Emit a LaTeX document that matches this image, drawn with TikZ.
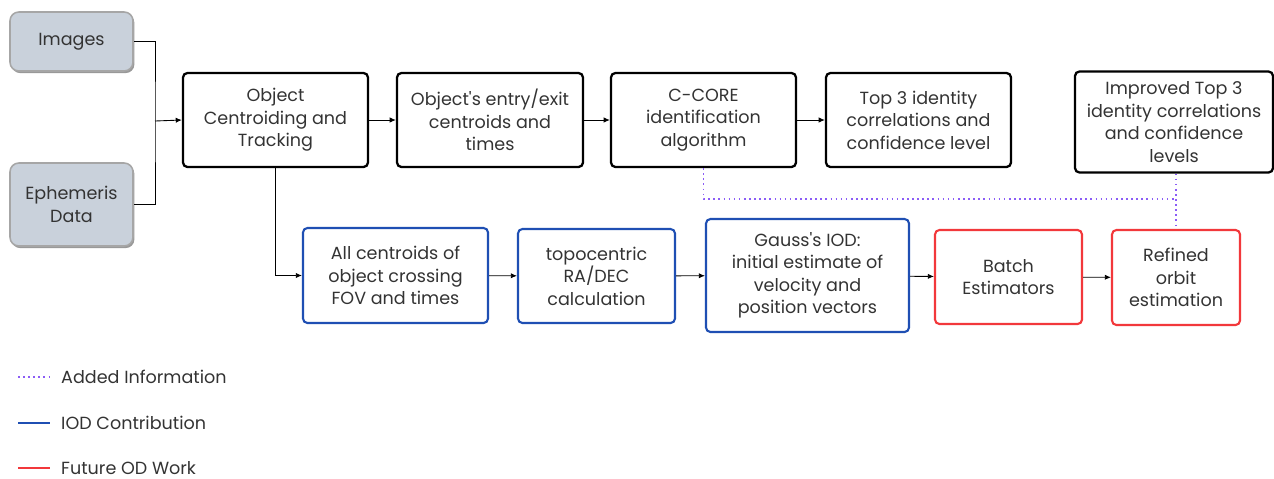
\documentclass[tikz,border=0pt]{standalone}
\usepackage{fontspec}
\setmainfont{Poppins}
\usetikzlibrary{arrows.meta,shadows}

\definecolor{iodblue}{HTML}{1F4FB3}
\definecolor{odred}{HTML}{F2383B}
\definecolor{addpurple}{HTML}{8B5CF6}
\definecolor{inputgray}{HTML}{C9D1DB}
\definecolor{txtgray}{HTML}{333333}

\begin{document}
\begin{tikzpicture}[x=0.02cm, y=-0.02cm,
    every node/.style={font=\fontsize{10}{12.8}\selectfont, text=txtgray, align=center},
    box/.style={draw=black, line width=1.3pt, rounded corners=2.5pt, inner sep=2pt},
    inbox/.style={box, draw=gray!70, line width=0.9pt, fill=inputgray, rounded corners=5pt,
        drop shadow={shadow xshift=0.8pt, shadow yshift=-1.2pt, fill=gray!80, opacity=1}},
    iodbox/.style={box, draw=iodblue, line width=1.2pt},
    odbox/.style={box, draw=odred, line width=1.2pt},
    flow/.style={line width=0.5pt, -{Latex[length=3.5pt,width=3pt]}},
    added/.style={addpurple, line width=0.9pt, dotted},
    legtext/.style={anchor=west, font=\fontsize{10}{12}\selectfont}]

    \useasboundingbox (0,0) rectangle (1274,478);

    % inputs
    \node[inbox, minimum width=2.46cm, minimum height=1.18cm] (img) at (71.5,41.5) {Images};
    \node[inbox, minimum width=2.46cm, minimum height=1.66cm] (eph) at (71.5,204.5) {Ephemeris\\Data};

    % top row
    \node[box, minimum width=3.7cm, minimum height=1.88cm] (oct) at (275.5,120) {Object\\Centroiding and\\Tracking};
    \node[box, minimum width=3.72cm, minimum height=1.88cm] (eex) at (490,120) {Object\textquotesingle s entry/exit\\centroids and\\times};
    \node[box, minimum width=3.7cm, minimum height=1.88cm] (ccore) at (703.5,120) {C-CORE\\identification\\algorithm};
    \node[box, minimum width=3.7cm, minimum height=1.88cm] (top3) at (918.5,120) {Top 3 identity\\correlations and\\confidence level};
    \node[box, minimum width=3.96cm, minimum height=2.02cm] (impr) at (1174,122) {Improved Top 3\\identity correlations\\and confidence\\levels};

    % bottom row
    \node[iodbox, minimum width=3.7cm, minimum height=1.9cm] (allc) at (395.5,275.5) {All centroids of\\object crossing\\FOV and times};
    \node[iodbox, minimum width=3.14cm, minimum height=1.88cm] (topo) at (596.5,276) {topocentric\\RA/DEC\\calculation};
    \node[iodbox, minimum width=4.06cm, minimum height=2.26cm] (gauss) at (807.5,275.5) {Gauss\textquotesingle s IOD:\\initial estimate of\\velocity and\\position vectors};
    \node[odbox, minimum width=2.94cm, minimum height=1.88cm] (batch) at (1008.5,277) {Batch\\Estimators};
    \node[odbox, minimum width=2.56cm, minimum height=1.9cm] (refd) at (1176,277.5) {Refined\\orbit\\estimation};

    % connectors
    \coordinate (merge) at (155,121);
    \draw[line width=0.5pt] (img.east) -| (merge) |- (eph.east);
    \draw[flow] (merge) -- (oct.west);
    \draw[flow] (oct) -- (eex);
    \draw[flow] (eex) -- (ccore);
    \draw[flow] (ccore) -- (top3);
    \draw[flow] (oct.south) |- (allc.west);
    \draw[flow] (allc) -- (topo);
    \draw[flow] (topo) -- (gauss);
    \draw[flow] (gauss) -- (batch);
    \draw[flow] (batch) -- (refd);

    % added information
    \coordinate (join) at (1176,199);
    \draw[added] (ccore.south) |- (join);
    \draw[added] (refd.north |- impr.south) -- (refd.north);

    % legend
    \draw[added] (18,377) -- (50,377);
    \node[legtext] (lgadd) at (55,377) {Added Information};
    \draw[iodblue, line width=1.2pt] (18,423) -- (50,423);
    \node[legtext] (lgiod) at (55,423) {IOD Contribution};
    \draw[odred, line width=1.2pt] (18,468) -- (50,468);
    \node[legtext] (lgod) at (55,468) {Future OD Work};

\end{tikzpicture}
\end{document}
